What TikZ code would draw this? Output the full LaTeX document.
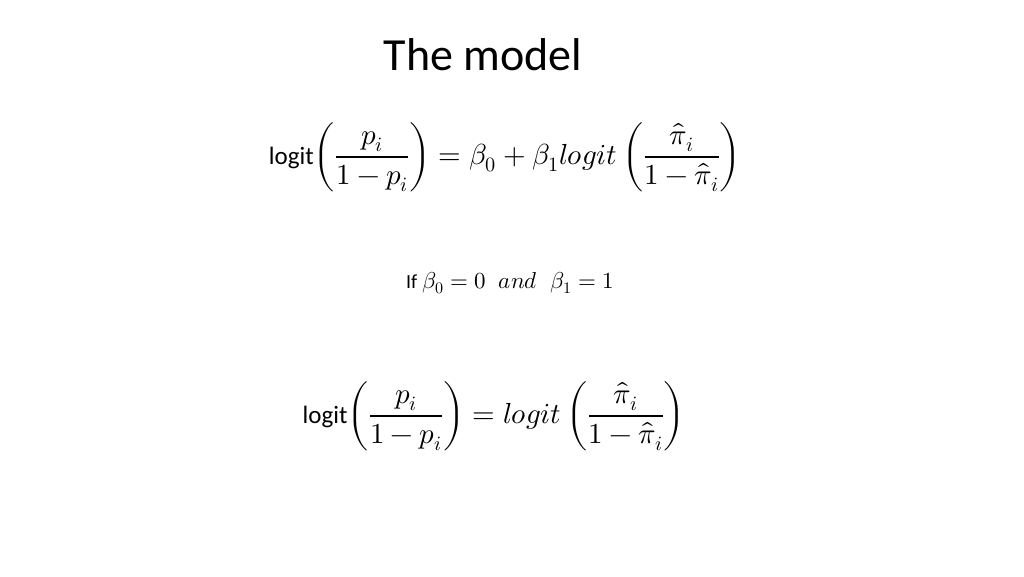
\documentclass[tikz,border=0pt]{standalone}
\usepackage{amsmath}
\usepackage{fontspec}
\usepackage{unicode-math}
\setmainfont{Carlito}
\setmathfont{Latin Modern Math}
\begin{document}
\begin{tikzpicture}[x=1pt,y=-1pt]
\tikzset{eq/.style={inner sep=0pt,font=\fontsize{29}{34}\selectfont}}
\useasboundingbox[fill=white] (0,0) rectangle (1024,576);
\node[inner sep=0pt,font=\fontsize{46}{54}\selectfont] (title) at (483,55) {The model};
\node[eq] (e1) at (505,157) {{\fontsize{25}{30}\selectfont logit}$\displaystyle\left(\frac{p_i}{1-p_i}\right)=\beta_0+\beta_1 logit\left(\frac{\hat\pi_i}{1-\hat\pi_i}\right)$};
\node[inner sep=0pt,font=\fontsize{23}{28}\selectfont] (cond) at (510,283) {{\fontsize{20}{24}\selectfont If} $\beta_0=0\;\; and\;\;\beta_1=1$};
\node[eq] (e2) at (494,416) {{\fontsize{25}{30}\selectfont logit}$\displaystyle\left(\frac{p_i}{1-p_i}\right)= logit\left(\frac{\hat\pi_i}{1-\hat\pi_i}\right)$};
\end{tikzpicture}
\end{document}
